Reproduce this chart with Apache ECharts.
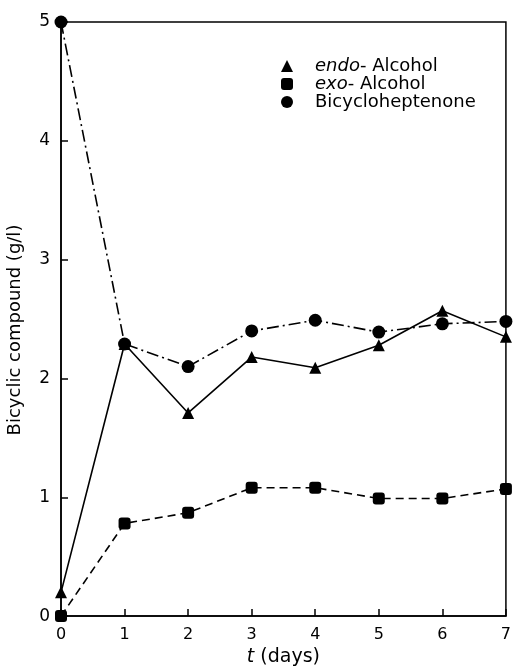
<!DOCTYPE html>
<html>
<head>
<meta charset="utf-8">
<script src="https://cdn.jsdelivr.net/npm/echarts@6/dist/echarts.min.js"></script>
<style>
html,body{margin:0;padding:0;background:#fff;overflow:hidden;}
#c{width:514px;height:672px;}
</style>
</head>
<body>
<div id="c"></div>
<script>
const days = [0, 1, 2, 3, 4, 5, 6, 7];
const endoAlcohol = [0.20, 2.29, 1.71, 2.18, 2.09, 2.28, 2.57, 2.35];
const exoAlcohol = [0.00, 0.78, 0.87, 1.08, 1.08, 0.99, 0.99, 1.07];
const bicycloheptenone = [5.00, 2.29, 2.10, 2.40, 2.49, 2.39, 2.46, 2.48];
const seriesNames = ['endo- Alcohol', 'exo- Alcohol', 'Bicycloheptenone'];
const yTicks = [0, 1, 2, 3, 4, 5];
const yTitle = 'Bicyclic compound (g/l)';

const FONT = 'DejaVu Sans';
const pairs = arr => days.map((d, i) => [d, arr[i]]);

const chart = echarts.init(document.getElementById('c'), null, {renderer: 'canvas'});
chart.setOption({
  animation: false,
  backgroundColor: '#fff',
  textStyle: {fontFamily: FONT, color: '#000'},
  grid: {left: 61, right: 2, top: 22, bottom: 50, show: true, borderColor: '#000', borderWidth: 1.5, backgroundColor: 'transparent'},
  xAxis: {
    type: 'value', min: 0, max: 7, interval: 1,
    name: '{i|t} (days)', nameLocation: 'middle', nameGap: 29,
    nameTextStyle: {
      fontFamily: FONT, fontSize: 19, color: '#000',
      rich: {i: {fontStyle: 'italic', fontFamily: FONT, fontSize: 19, color: '#000'}}
    },
    axisLine: {lineStyle: {color: '#000', width: 1.5}},
    axisTick: {inside: true, length: 7, lineStyle: {color: '#000', width: 1.5}},
    axisLabel: {color: '#000', fontSize: 16, fontFamily: FONT, margin: 11},
    splitLine: {show: false}
  },
  yAxis: {
    type: 'value', min: 0, max: 5, interval: 1,
    axisLine: {show: true, lineStyle: {color: '#000', width: 1.5}},
    axisTick: {show: true, inside: true, length: 7, lineStyle: {color: '#000', width: 1.5}},
    axisLabel: {color: '#000', fontSize: 17, fontFamily: FONT, margin: 11,
      formatter: v => yTicks.includes(v) ? String(v) : ''},
    splitLine: {show: false}
  },
  graphic: [{
    type: 'text', x: 15, y: 330, rotation: Math.PI / 2,
    style: {text: yTitle, fontFamily: FONT, fontSize: 18, fill: '#000', align: 'center', verticalAlign: 'middle'}
  }],
  legend: {
    orient: 'vertical', left: 276, top: 52, itemWidth: 12, itemHeight: 12, itemGap: 0,
    textStyle: {
      fontFamily: FONT, fontSize: 18, color: '#000', lineHeight: 18, padding: [0, 0, 0, 17],
      rich: {i: {fontStyle: 'italic', fontFamily: FONT, fontSize: 18, color: '#000', lineHeight: 18}}
    },
    formatter: name => {
      if (name === seriesNames[0]) return '{i|endo}- Alcohol';
      if (name === seriesNames[1]) return '{i|exo}- Alcohol';
      return name;
    },
    data: [
      {name: seriesNames[0], icon: 'triangle'},
      {name: seriesNames[1], icon: 'roundRect'},
      {name: seriesNames[2], icon: 'circle'}
    ]
  },
  series: [
    {
      name: seriesNames[0], type: 'line', data: pairs(endoAlcohol), clip: false,
      symbol: 'triangle', symbolSize: 12,
      lineStyle: {color: '#000', width: 1.6, type: 'solid'},
      itemStyle: {color: '#000'}, z: 3
    },
    {
      name: seriesNames[1], type: 'line', data: pairs(exoAlcohol), clip: false,
      symbol: 'roundRect', symbolSize: 12,
      lineStyle: {color: '#000', width: 1.6, type: [8, 5]},
      itemStyle: {color: '#000'}, z: 3
    },
    {
      name: seriesNames[2], type: 'line', data: pairs(bicycloheptenone), clip: false,
      symbol: 'circle', symbolSize: 13,
      lineStyle: {color: '#000', width: 1.6, type: [12, 4, 2, 4]},
      itemStyle: {color: '#000'}, z: 3
    }
  ]
});
</script>
</body>
</html>
